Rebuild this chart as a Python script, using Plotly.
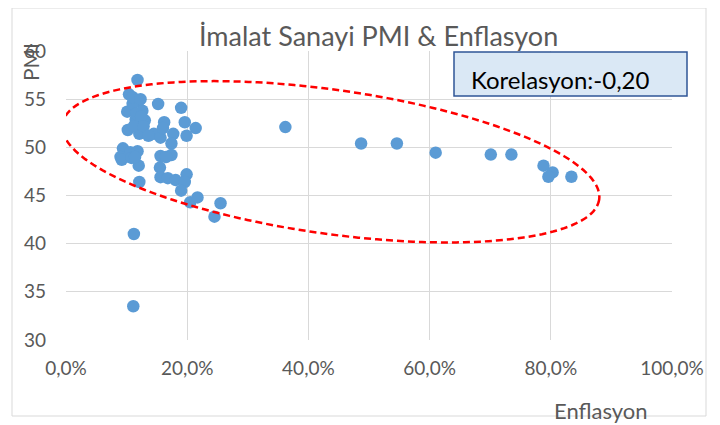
import numpy as np
import plotly.graph_objects as go

# Inflation (fraction) and PMI values
enflasyon = [0.118, 0.104, 0.120, 0.152, 0.190, 0.101, 0.126, 0.115, 0.130, 0.196,
             0.162, 0.214, 0.102, 0.121, 0.145, 0.177, 0.199, 0.156, 0.174, 0.094,
             0.106, 0.118, 0.090, 0.156, 0.174, 0.092, 0.120, 0.155, 0.156, 0.168,
             0.181, 0.199, 0.196, 0.190, 0.121, 0.205, 0.217, 0.255, 0.245,
             0.112, 0.111,
             0.362, 0.487, 0.546, 0.610, 0.701, 0.735, 0.788, 0.803, 0.796, 0.834,
             0.110, 0.116, 0.124, 0.112, 0.128, 0.108, 0.114, 0.136, 0.160, 0.165,
             0.110, 0.123]
pmi = [57.0, 55.5, 54.8, 54.5, 54.1, 53.7, 53.8, 52.9, 52.8, 52.6,
       52.6, 52.0, 51.8, 51.4, 51.4, 51.4, 51.2, 51.0, 50.4, 49.9,
       49.5, 49.6, 49.0, 49.1, 49.2, 48.7, 48.1, 47.9, 46.9, 46.8,
       46.6, 47.2, 46.4, 45.5, 46.4, 44.3, 44.8, 44.2, 42.8,
       41.0, 33.5,
       52.1, 50.4, 50.4, 49.45, 49.25, 49.25, 48.1, 47.4, 46.95, 46.95,
       54.5, 53.5, 53.2, 52.2, 52.2, 48.9, 49.0, 51.2, 52.0, 49.0,
       55.2, 55.0]

x_ticks = [0.0, 0.2, 0.4, 0.6, 0.8, 1.0]
y_ticks = [30, 35, 40, 45, 50, 55, 60]
title_text = "İmalat Sanayi PMI & Enflasyon"
x_title = "Enflasyon"
y_title = "PMI"
corr_text = "Korelasyon:-0,20"

# page body has an 8px default margin: shrink the figure so it lands on the 720x425 frame
OFF = 8
W, H = 720 - OFF, 425 - OFF
ML, MR, MT, MB = 66 - OFF, 48, 51 - OFF, 85
PW, PH = W - ML - MR, H - MT - MB
X_RANGE = [0, 1.0]
Y_RANGE = [30, 60]

# Highlight ellipse (center in data units, semi-axes in pixels, tilt in degrees)
ell_cx, ell_cy = 0.437, 48.5
ell_a, ell_b, ell_tilt = 271, 72, 8.0

px_x = PW / (X_RANGE[1] - X_RANGE[0])
px_y = PH / (Y_RANGE[1] - Y_RANGE[0])
t = np.linspace(0, 2 * np.pi, 181)
th = np.radians(ell_tilt)
dx = ell_a * np.cos(t) * np.cos(th) - ell_b * np.sin(t) * np.sin(th)
dy = ell_a * np.cos(t) * np.sin(th) + ell_b * np.sin(t) * np.cos(th)  # screen down
ex = ell_cx + dx / px_x
ey = ell_cy - dy / px_y
path = "M " + " L ".join(f"{a:.5f},{b:.4f}" for a, b in zip(ex, ey)) + " Z"

FONT = "Lato"
GRAY = "#595959"

fig = go.Figure()
fig.add_trace(go.Scatter(
    x=enflasyon, y=pmi, mode="markers",
    marker=dict(size=12.5, color="#5b9bd5", line=dict(width=0)),
    hoverinfo="x+y", showlegend=False,
))


# reference-frame pixel -> paper coordinates
def px2paper_x(p):
    return (p - 66) / PW


def px2paper_y(p):
    return (340 - p) / PH


shapes = [
    dict(type="path", path=path, xref="x", yref="y",
         line=dict(color="#ff0000", width=2.5, dash="7px,4px"), fillcolor="rgba(0,0,0,0)"),
    dict(type="rect", xref="paper", yref="paper",
         x0=px2paper_x(12), x1=px2paper_x(706), y0=px2paper_y(416), y1=px2paper_y(8),
         line=dict(color="#d9d9d9", width=1), fillcolor="rgba(0,0,0,0)", layer="below"),
    dict(type="rect", xref="paper", yref="paper",
         x0=px2paper_x(454), x1=px2paper_x(687), y0=px2paper_y(96), y1=px2paper_y(52),
         line=dict(color="#2f5597", width=1.5), fillcolor="#dae8f5"),
]

annotations = [
    dict(text=title_text, xref="paper", yref="paper", x=px2paper_x(378), y=px2paper_y(35),
         showarrow=False, font=dict(family=FONT, size=27, color=GRAY), xanchor="center", yanchor="middle"),
    dict(text=y_title, xref="paper", yref="paper", x=px2paper_x(30), y=px2paper_y(62),
         showarrow=False, textangle=-90, font=dict(family=FONT, size=21, color=GRAY),
         xanchor="center", yanchor="middle"),
    dict(text=x_title, xref="paper", yref="paper", x=px2paper_x(601), y=px2paper_y(410),
         showarrow=False, font=dict(family=FONT, size=22, color=GRAY), xanchor="center", yanchor="middle"),
    dict(text=corr_text, xref="paper", yref="paper", x=px2paper_x(560), y=px2paper_y(79),
         showarrow=False, font=dict(family=FONT, size=24, color="#000000"), xanchor="center", yanchor="middle"),
]

fig.update_layout(
    width=W, height=H,
    margin=dict(l=ML, r=MR, t=MT, b=MB),
    paper_bgcolor="white", plot_bgcolor="white",
    separators=",.",
    shapes=shapes, annotations=annotations,
    font=dict(family=FONT, color=GRAY),
)
fig.update_xaxes(range=X_RANGE, tickvals=x_ticks, tickformat=".1%",
                 showgrid=True, gridcolor="#d9d9d9", gridwidth=1.3,
                 zeroline=False, showline=False, ticks="", ticklabelstandoff=15,
                 tickfont=dict(family=FONT, size=19, color=GRAY), fixedrange=True)
fig.update_yaxes(range=Y_RANGE, tickvals=y_ticks,
                 showgrid=True, gridcolor="#d9d9d9", gridwidth=1.3,
                 zeroline=False, showline=False, ticks="", ticklabelstandoff=19,
                 tickfont=dict(family=FONT, size=19, color=GRAY), fixedrange=True)

fig.write_html("out.html")
